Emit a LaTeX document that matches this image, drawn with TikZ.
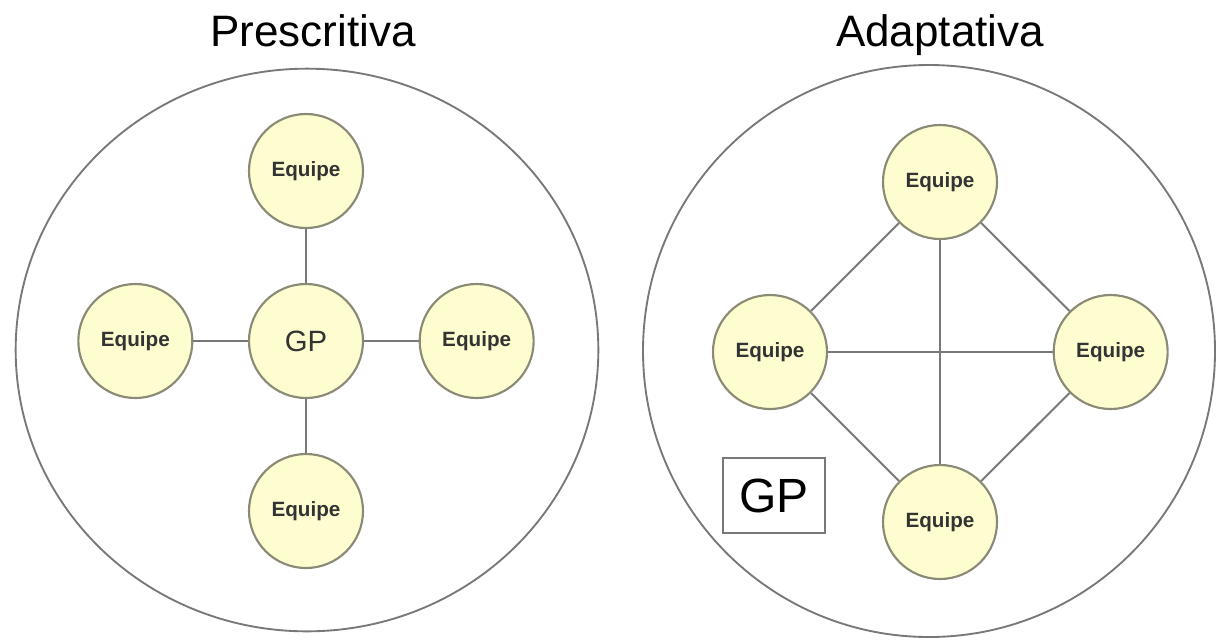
\documentclass[tikz,border=0pt]{standalone}
\usepackage{fontspec}
\setmainfont{Liberation Sans}
\usetikzlibrary{positioning}
\definecolor{teamfill}{RGB}{253,253,208}
\definecolor{teamline}{RGB}{138,138,118}
\definecolor{linkgray}{RGB}{120,120,120}
\tikzset{team/.style={circle,draw=teamline,fill=teamfill,line width=1.6pt,minimum size=85.5pt,inner sep=0pt,font=\fontsize{15.5}{18}\selectfont\bfseries,text=black!80},
link/.style={draw=linkgray,line width=1.5pt},
title/.style={font=\fontsize{33}{36}\selectfont,anchor=base}}

\begin{document}
\begin{tikzpicture}[x=0.75pt,y=-0.75pt]
\useasboundingbox (0,0) rectangle (1217,640);
% outer circles
\draw[linkgray,line width=1.4pt] (307,350) ellipse [x radius=218.5pt, y radius=211pt];
\draw[linkgray,line width=1.4pt] (929,351) ellipse [x radius=214.5pt, y radius=214.5pt];
\node[title] (tpre) at (313,46) {Prescritiva};
\node[title] (tada) at (940,46) {Adaptativa};
% prescritiva
\node (gp) at (306,341) [team,font=\fontsize{22}{24}\selectfont] {GP};
\node (pN) [above of=gp, node distance=127.5pt, team] {Equipe};
\node (pS) [below of=gp, node distance=127.5pt, team] {Equipe};
\node (pW) [left of=gp, node distance=128pt, team] {Equipe};
\node (pE) [right of=gp, node distance=128pt, team] {Equipe};
\foreach \t in {pN, pS, pW, pE} {
\draw[link] (gp) -- (\t);
}
% adaptativa
\node (aN) at (940,182) [team] {Equipe};
\node (aS) [below of=aN, node distance=255pt, team] {Equipe};
\node (aW) at (770,352) [team] {Equipe};
\node (aE) [right of=aW, node distance=255.5pt, team] {Equipe};
\draw[link] (aN) -- (aW);
\draw[link] (aN) -- (aE);
\draw[link] (aS) -- (aW);
\draw[link] (aS) -- (aE);
\draw[link] (aN) -- (aS);
\draw[link] (aW) -- (aE);
\node (gpbox) at (774,495.5) [draw=linkgray,line width=1.2pt,minimum width=76.5pt,minimum height=56pt,inner sep=0pt,font=\fontsize{36}{38}\selectfont] {GP};
\end{tikzpicture}
\end{document}
